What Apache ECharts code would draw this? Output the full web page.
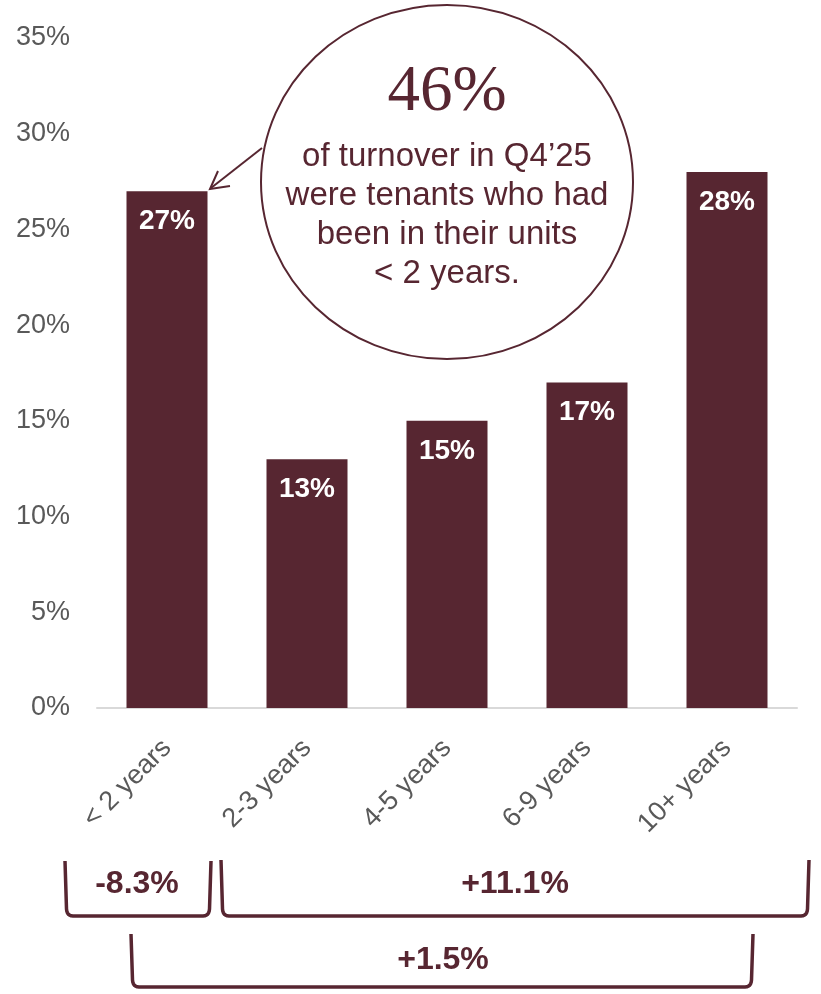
<!DOCTYPE html>
<html>
<head>
<meta charset="utf-8">
<script src="https://cdn.jsdelivr.net/npm/echarts@6/dist/echarts.min.js"></script>
<style>
html,body{margin:0;padding:0;background:#fff;}
#chart{width:821px;height:994px;}
</style>
</head>
<body>
<div id="chart"></div>
<script>
var categories = ['< 2 years', '2-3 years', '4-5 years', '6-9 years', '10+ years'];
var values = [27, 13, 15, 17, 28];
var yTicks = [0, 5, 10, 15, 20, 25, 30, 35];
var bracketLabels = ['-8.3%', '+11.1%', '+1.5%'];
var calloutBig = '46%';
var calloutLines = ['of turnover in Q4’25', 'were tenants who had', 'been in their units', '< 2 years.'];

var MAROON = '#572631';
var chart = echarts.init(document.getElementById('chart'), null, {renderer: 'canvas'});

function quad(p0, p1, p2, pts) {
  for (var i = 1; i <= 6; i++) {
    var t = i / 6, a = (1 - t) * (1 - t), b = 2 * (1 - t) * t, c = t * t;
    pts.push([a * p0[0] + b * p1[0] + c * p2[0], a * p0[1] + b * p1[1] + c * p2[1]]);
  }
}
function bracket(x1, x2, yTop, yBot) {
  var r = 7, pts = [[x1, yTop], [x1 + 1.5, yBot - r]];
  quad([x1 + 1.5, yBot - r], [x1 + 2, yBot], [x1 + 8, yBot], pts);
  pts.push([x2 - 8, yBot]);
  quad([x2 - 8, yBot], [x2 - 2, yBot], [x2 - 1.5, yBot - r], pts);
  pts.push([x2, yTop]);
  return pts;
}

var textFont = '"Liberation Sans", Arial, sans-serif';

var graphics = [
  {type: 'ellipse', shape: {cx: 447, cy: 182, rx: 186, ry: 177},
   style: {fill: '#fff', stroke: MAROON, lineWidth: 2}, z: 10},
  {type: 'line', shape: {x1: 262, y1: 148, x2: 211, y2: 188},
   style: {stroke: MAROON, lineWidth: 2}, z: 10},
  {type: 'polyline', shape: {points: [[218, 171], [210, 189], [230, 186]]},
   style: {stroke: MAROON, lineWidth: 2, fill: null}, z: 10},
  {type: 'text', x: 447, y: 93, style: {text: calloutBig, fill: MAROON,
   font: 'normal 65px "Liberation Serif", "Times New Roman", serif', align: 'center', verticalAlign: 'middle'}, z: 11}
];
calloutLines.forEach(function (t, i) {
  graphics.push({type: 'text', x: 447, y: 157 + i * 39, style: {text: t, fill: MAROON,
    font: 'normal 33px ' + textFont, align: 'center', verticalAlign: 'middle'}, z: 11});
});
[[65, 211, 861, 916], [221, 809, 860, 916], [131, 753, 934, 987]].forEach(function (b) {
  graphics.push({type: 'polyline', shape: {points: bracket(b[0], b[1], b[2], b[3])},
    style: {stroke: MAROON, lineWidth: 3.5, fill: null, lineJoin: 'round'}});
});
graphics.push(
  {type: 'text', x: 137, y: 884, style: {text: bracketLabels[0], fill: MAROON, font: 'bold 32px ' + textFont, align: 'center', verticalAlign: 'middle'}},
  {type: 'text', x: 515, y: 884, style: {text: bracketLabels[1], fill: MAROON, font: 'bold 32px ' + textFont, align: 'center', verticalAlign: 'middle'}},
  {type: 'text', x: 443, y: 960, style: {text: bracketLabels[2], fill: MAROON, font: 'bold 32px ' + textFont, align: 'center', verticalAlign: 'middle'}}
);

chart.setOption({
  animation: false,
  backgroundColor: '#fff',
  grid: {left: 97, right: 24, top: 38, bottom: 286, containLabel: false},
  xAxis: {
    type: 'category',
    data: categories,
    axisLine: {lineStyle: {color: '#d9d9d9', width: 2}},
    axisTick: {show: false},
    axisLabel: {rotate: 45, color: '#595959', fontSize: 27, fontFamily: textFont, margin: 36, interval: 0}
  },
  yAxis: {
    type: 'value',
    min: 0, max: 35, interval: 5,
    axisLine: {show: false},
    axisTick: {show: false},
    splitLine: {show: false},
    axisLabel: {color: '#595959', fontSize: 27, fontFamily: textFont, margin: 27,
      formatter: function (v) { return yTicks.indexOf(v) >= 0 ? v + '%' : ''; }}
  },
  series: [{
    type: 'bar',
    data: values,
    barWidth: 81,
    itemStyle: {color: MAROON},
    label: {show: true, position: 'insideTop', distance: 16, color: '#fff',
      fontSize: 28, fontWeight: 'bold', fontFamily: textFont, formatter: '{c}%'}
  }],
  graphic: graphics
});
</script>
</body>
</html>
